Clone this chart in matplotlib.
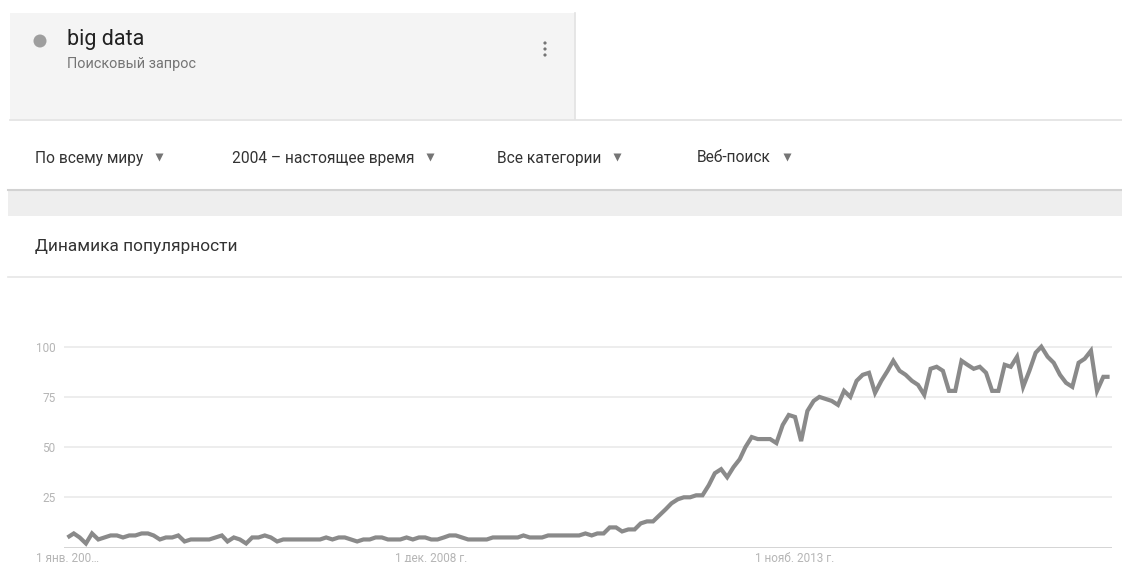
#!/usr/bin/env python3
"""Interest-over-time panel for the query "big data" (monthly, 2004 onwards)."""

import matplotlib

matplotlib.use("Agg")
import matplotlib.dates as mdates
import matplotlib.pyplot as plt
import pandas as pd
from matplotlib.patches import Circle, Rectangle

plt.rcParams["font.family"] = ["Roboto", "DejaVu Sans"]

W, H = 1122, 562

QUERY = "big data"
QUERY_KIND = "Поисковый запрос"
FILTERS = ["По всему миру", "2004 – настоящее время", "Все категории", "Веб-поиск"]
PANEL_TITLE = "Динамика популярности"

START = "2004-01-01"
# monthly relative interest, 0..100
INTEREST = [
    5, 7, 5, 2, 7, 4, 5, 6, 6, 5,
    6, 6, 7, 7, 6, 4, 5, 5, 6, 3,
    4, 4, 4, 4, 5, 6, 3, 5, 4, 2,
    5, 5, 6, 5, 3, 4, 4, 4, 4, 4,
    4, 4, 5, 4, 5, 5, 4, 3, 4, 4,
    5, 5, 4, 4, 4, 5, 4, 5, 5, 4,
    4, 5, 6, 6, 5, 4, 4, 4, 4, 5,
    5, 5, 5, 5, 6, 5, 5, 5, 6, 6,
    6, 6, 6, 6, 7, 6, 7, 7, 10, 10,
    8, 9, 9, 12, 13, 13, 16, 19, 22, 24,
    25, 25, 26, 26, 31, 37, 39, 35, 40, 44,
    50, 55, 54, 54, 54, 52, 61, 66, 65, 53,
    68, 73, 75, 74, 73, 71, 78, 75, 83, 86,
    87, 77, 83, 88, 93, 88, 86, 83, 81, 76,
    89, 90, 88, 78, 78, 93, 91, 89, 90, 87,
    78, 78, 91, 90, 95, 80, 88, 97, 100, 95,
    92, 86, 82, 80, 92, 94, 98, 78, 85, 85,
]
TICK_DATES = ["2004-01-01", "2008-12-01", "2013-11-01"]
TICK_LABELS = ["1 янв. 200…", "1 дек. 2008 г.", "1 нояб. 2013 г."]
Y_TICKS = [25, 50, 75, 100]

dates = pd.date_range(START, periods=len(INTEREST), freq="MS")

fig = plt.figure(figsize=(W / 100, H / 100), dpi=100)
fig.patch.set_facecolor("white")

# page chrome drawn in pixel coordinates
bg = fig.add_axes([0, 0, 1, 1])
bg.set_xlim(0, W)
bg.set_ylim(H, 0)
bg.axis("off")

bg.add_patch(Rectangle((10, 13), 565, 106, facecolor="#f4f4f4", edgecolor="none"))
bg.plot([575, 575], [13, 119], color="#e2e2e2", lw=1.2)
bg.plot([10, W], [119.5, 119.5], color="#e2e2e2", lw=1.2)
bg.add_patch(Circle((40, 41), 6.5, facecolor="#9e9e9e", edgecolor="none"))
bg.text(67, 40, QUERY, fontsize=15.5, color="#212121", va="center", ha="left")
bg.text(67, 64, QUERY_KIND, fontsize=10.4, color="#757575", va="center", ha="left")
for dy in (-6, 0, 6):
    bg.add_patch(Circle((545, 49 + dy), 1.6, facecolor="#757575", edgecolor="none"))

filter_x = [35, 232, 497, 697]
fig.canvas.draw()
renderer = fig.canvas.get_renderer()
for x, label in zip(filter_x, FILTERS):
    t = bg.text(x, 158, label, fontsize=11.2, color="#333333", va="center", ha="left")
    bb = t.get_window_extent(renderer=renderer)
    bg.plot(bb.x1 + 16, 157, marker="v", ms=6, color="#757575", mec="none")

bg.add_patch(Rectangle((8, 189), W - 8, 27, facecolor="#eeeeee", edgecolor="none"))
bg.plot([8, W], [189.5, 189.5], color="#d2d2d2", lw=1.5)
bg.text(35, 246, PANEL_TITLE, fontsize=12.4, color="#333333", va="center", ha="left")
bg.plot([8, W], [276.5, 276.5], color="#e6e6e6", lw=1.2)

# chart area: value 0 at y=547.5 px, 100 at y=346.7 px
y0_px, y100_px = 547.5, 346.7
px_per_unit = (y0_px - y100_px) / 100
ymax = 115
ax_bottom = (H - y0_px) / H
ax_height = ymax * px_per_unit / H
x_left, x_right = 64, 1112
ax = fig.add_axes([x_left / W, ax_bottom, (x_right - x_left) / W, ax_height])
ax.set_facecolor("none")

d_first = mdates.date2num(dates[0])
d_last = mdates.date2num(dates[-1])
first_px, last_px = 67.5, 1109.6
per_px = (d_last - d_first) / (last_px - first_px)
ax.set_xlim(d_first - (first_px - x_left) * per_px, d_last + (x_right - last_px) * per_px)
ax.set_ylim(0, ymax)

for v in Y_TICKS:
    ax.axhline(v, color="#e8e8e8", lw=1.1, zorder=1)
ax.axhline(0, color="#d4d4d4", lw=1.4, zorder=1)

ax.plot(dates, INTEREST, color="#8a8a8a", lw=3.0, solid_joinstyle="miter",
        solid_capstyle="butt", zorder=3, clip_on=False)

for s in ax.spines.values():
    s.set_visible(False)
ax.set_yticks(Y_TICKS)
ax.set_yticklabels([str(v) for v in Y_TICKS])
ax.set_xticks([mdates.date2num(pd.Timestamp(d)) for d in TICK_DATES])
ax.set_xticklabels(TICK_LABELS)
ax.tick_params(axis="both", length=0, labelsize=8.5, labelcolor="#b5b5b5")
ax.tick_params(axis="y", pad=6)
ax.tick_params(axis="x", pad=3)

fig.savefig("out.png", dpi=100)
